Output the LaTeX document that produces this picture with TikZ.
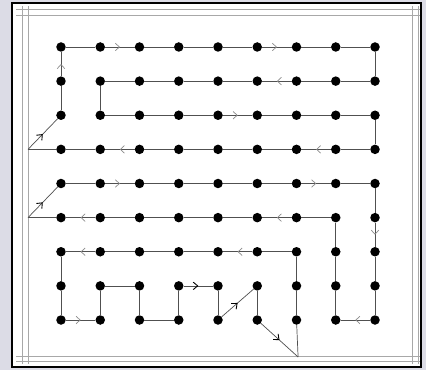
\documentclass[tikz,border=0pt]{standalone}
\usepackage{tikz}
\usetikzlibrary{arrows.meta,decorations.markings}
\definecolor{rand}{HTML}{DCDCE6}
\definecolor{linie}{HTML}{505050}
\definecolor{hlinie}{HTML}{8C8C8C}
\definecolor{rahmengrau}{HTML}{A8A8A8}
\tikzset{
  punkt/.style={circle,fill=black,inner sep=0pt,minimum size=9.5pt},
  kante/.style={linie,line width=0.7pt},
  pfeil/.style={kante,postaction={decorate},decoration={markings,mark=at position 0.5 with {\arrow[hlinie,line width=0.7pt]{Straight Barb[length=4pt,width=7.5pt]}}}},
  spfeil/.style={kante,postaction={decorate},decoration={markings,mark=at position 0.5 with {\arrow[black,line width=0.9pt]{Straight Barb[length=4.5pt,width=7.5pt]}}}},
  rahmen/.style={rahmengrau,line width=0.8pt},
}

\begin{document}
\begin{tikzpicture}[x=39.25pt,y=-34.125pt]
  \fill[rand] (-1.554,-1.377) rectangle (9.299,9.465);
  \useasboundingbox (-1.554,-1.377) rectangle (9.299,9.465);
  \filldraw[fill=white,draw=black,line width=2pt] (-1.248,-1.289) rectangle (9.172,9.377);
  % doppelter Rahmen
  \foreach \x in {-0.994,-0.841,8.943,9.096}
    \draw[rahmen] (\x,-1.2) -- (\x,9.29);
  \foreach \y in {-1.114,-0.938,9.055,9.201}
    \draw[rahmen] (-1.14,\y) -- (9.15,\y);
  % Gitterpunkte
  \foreach \c in {0,...,8}
    \foreach \r in {0,...,8}
      \node[punkt] (p\c\r) at (\c,\r) {};
  \coordinate (l1) at (-0.841,3);
  \coordinate (l2) at (-0.841,5);
  \coordinate (u) at (6.04,9.084);
  % Kreis oben
  \foreach \a/\b in {p02/p01,p00/p10,p20/p30,p30/p40,p40/p50,p60/p70,p70/p80,
    p80/p81,p81/p71,p71/p61,p51/p41,p41/p31,p31/p21,p21/p11,p11/p12,p12/p22,
    p22/p32,p32/p42,p52/p62,p62/p72,p72/p82,p82/p83,p83/p73,p63/p53,p53/p43,
    p43/p33,p33/p23,p13/p03,p03/l1}
    \draw[kante] (\a) -- (\b);
  \foreach \a/\b in {p01/p00,p10/p20,p50/p60,p61/p51,p42/p52,p73/p63,p23/p13}
    \draw[pfeil] (\a) -- (\b);
  \draw[spfeil] (l1) -- (p02);
  % Kreis Mitte
  \foreach \a/\b in {p04/p14,p24/p34,p34/p44,p44/p54,p54/p64,p74/p84,p84/p85,
    p86/p87,p87/p88,p78/p77,p77/p76,p76/p75,p75/p65,p55/p45,p45/p35,p35/p25,
    p25/p15,p05/l2}
    \draw[kante] (\a) -- (\b);
  \foreach \a/\b in {p14/p24,p64/p74,p85/p86,p88/p78,p65/p55,p15/p05}
    \draw[pfeil] (\a) -- (\b);
  \draw[spfeil] (l2) -- (p04);
  % Kreis unten
  \foreach \a/\b in {p66/p56,p46/p36,p36/p26,p26/p16,p06/p07,p07/p08,p18/p17,
    p17/p27,p27/p28,p28/p38,p38/p37,p47/p48,p57/p58,u/p68,p68/p67,p67/p66}
    \draw[kante] (\a) -- (\b);
  \foreach \a/\b in {p56/p46,p16/p06,p08/p18}
    \draw[pfeil] (\a) -- (\b);
  \foreach \a/\b in {p37/p47,p48/p57,p58/u}
    \draw[spfeil] (\a) -- (\b);
\end{tikzpicture}
\end{document}
